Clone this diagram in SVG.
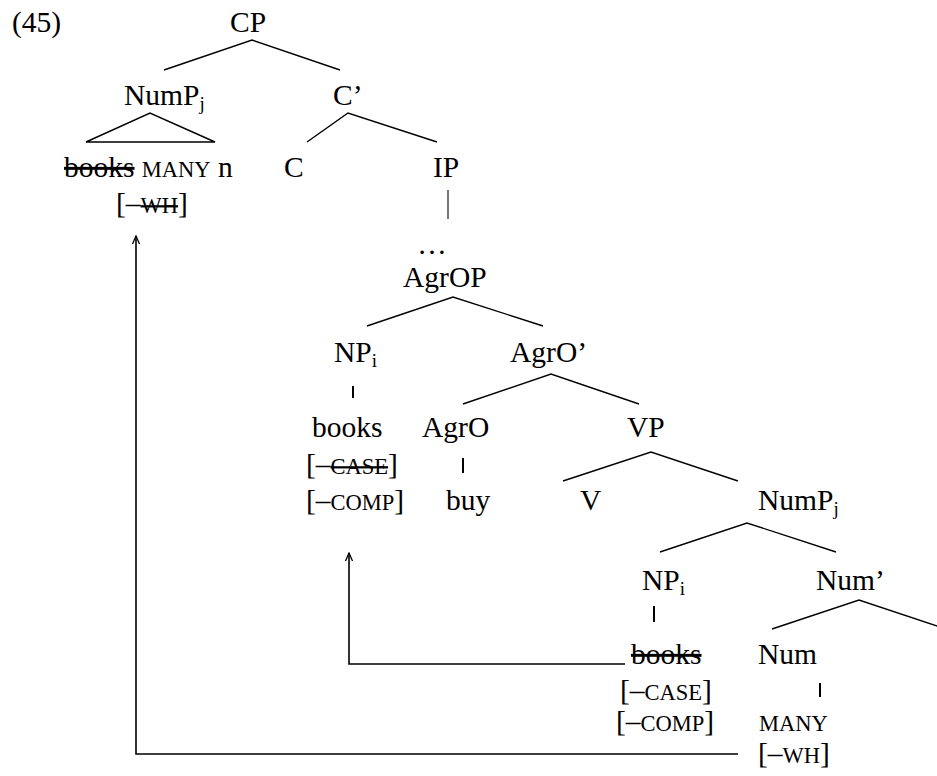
<svg xmlns="http://www.w3.org/2000/svg" width="937" height="776" viewBox="0 0 937 776">
<style>
text{font-family:"Liberation Serif","Times New Roman",serif;font-size:29.5px;fill:#000}
.sc{font-size:22.5px}
.sub{font-size:19px}
.st{text-decoration:line-through}
.br{stroke:#000;stroke-width:1.4;fill:none}
.bar{stroke:#000;stroke-width:2}
.mv{stroke:#000;stroke-width:1.6;fill:none}
</style>
<defs>
<marker id="ah" viewBox="0 0 10 10" refX="9" refY="5" markerWidth="10" markerHeight="10" markerUnits="userSpaceOnUse" orient="auto">
<path d="M1,1.5 L9,5 L1,8.5" fill="none" stroke="#000" stroke-width="1.3"/>
</marker>
</defs>
<rect width="937" height="776" fill="#fff"/>
<text x="12" y="32">(45)</text>
<g id="connectors">
<path class="br" d="M164,70 L252,40 L340,70"/>
<path class="br" d="M86,142 L150,113 L215,142 Z"/>
<path class="br" d="M307,142 L348,113 L437,142"/>
<line x1="448" y1="190" x2="448" y2="219" stroke="#555" stroke-width="1.6"/>
<path class="br" d="M367,326 L453,297 L543,326"/>
<line class="bar" x1="353" y1="386" x2="353" y2="398"/>
<path class="br" d="M463,404 L551,374 L639,404"/>
<line class="bar" x1="463" y1="458" x2="463" y2="473"/>
<path class="br" d="M563,481 L651,452 L738,481"/>
<path class="br" d="M660,552 L747,523 L836,552"/>
<line class="bar" x1="654" y1="606" x2="654" y2="622"/>
<path class="br" d="M772,629 L859,600 L946,629"/>
<line class="bar" x1="820" y1="683" x2="820" y2="697"/>
<path class="mv" d="M738,754 H136 V236" marker-end="url(#ah)"/>
<path class="mv" d="M625,664 H349 V553" marker-end="url(#ah)"/>
</g>
<g id="CP"><text x="248" y="32" text-anchor="middle">CP</text></g>
<g id="NumP_top"><text x="124" y="105">NumP<tspan class="sub" dy="5">j</tspan></text></g>
<g id="Cbar"><text x="333" y="105">C’</text></g>
<g id="NumP_top_content">
<text x="64" y="177"><tspan class="st">books</tspan> <tspan class="sc">MANY</tspan> n</text>
<text x="116" y="213">[–<tspan class="sc st">WH</tspan>]</text>
</g>
<g id="C"><text x="284" y="177">C</text></g>
<g id="IP"><text x="433" y="177">IP</text></g>
<g id="dots"><text x="432" y="254" text-anchor="middle">…</text></g>
<g id="AgrOP"><text x="403" y="287">AgrOP</text></g>
<g id="NP_i_top"><text x="334" y="362">NP<tspan class="sub" dy="5">i</tspan></text></g>
<g id="AgrObar"><text x="510" y="362">AgrO’</text></g>
<g id="books_top">
<text x="312" y="437">books</text>
<text x="306" y="474">[–<tspan class="sc st">CASE</tspan>]</text>
<text x="306" y="510">[–<tspan class="sc">COMP</tspan>]</text>
</g>
<g id="AgrO"><text x="422" y="437">AgrO</text></g>
<g id="buy"><text x="446" y="510">buy</text></g>
<g id="VP"><text x="627" y="437">VP</text></g>
<g id="V"><text x="580" y="510">V</text></g>
<g id="NumP_low"><text x="758" y="510">NumP<tspan class="sub" dy="5">j</tspan></text></g>
<g id="NP_i_low"><text x="642" y="590">NP<tspan class="sub" dy="5">i</tspan></text></g>
<g id="Numbar"><text x="816" y="590">Num’</text></g>
<g id="books_low">
<text x="631" y="664" class="st">books</text>
<text x="620" y="700">[–<tspan class="sc">CASE</tspan>]</text>
<text x="616" y="731">[–<tspan class="sc">COMP</tspan>]</text>
</g>
<g id="Num"><text x="758" y="664">Num</text></g>
<g id="MANY">
<text x="759" y="731" class="sc">MANY</text>
<text x="758" y="763">[–<tspan class="sc">WH</tspan>]</text>
</g>
</svg>
